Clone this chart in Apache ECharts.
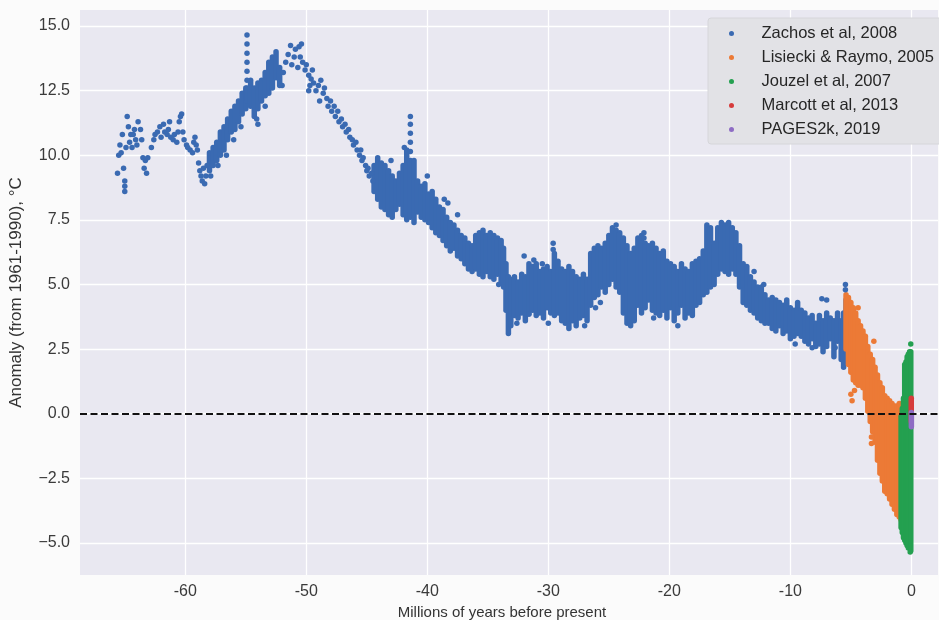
<!DOCTYPE html>
<html>
<head>
<meta charset="utf-8">
<script src="https://cdn.jsdelivr.net/npm/echarts@6/dist/echarts.min.js"></script>
<style>
  html, body { margin: 0; padding: 0; background: #fbfbfb; }
  #chart { width: 939px; height: 620px; }
</style>
</head>
<body>
<div id="chart"></div>
<script>
const seriesNames = ['Zachos et al, 2008', 'Lisiecki & Raymo, 2005', 'Jouzel et al, 2007', 'Marcott et al, 2013', 'PAGES2k, 2019'];
const seriesColors = ['#3a6ab2', '#ec7a36', '#24a050', '#d63b3b', '#8e6cc4'];
const xTicks = [-60, -50, -40, -30, -20, -10, 0];
const yTicks = [-5, -2.5, 0, 2.5, 5, 7.5, 10, 12.5, 15];

// single readings [Myr, anomaly]
const zachosPoints = [
  [-65.6, 9.3], [-65.5, 10.0], [-65.4, 10.4], [-65.3, 10.1], [-65.2, 10.8], [-65.1, 9.5], [-65.0, 9.0], [-65.0, 8.8],
  [-65.0, 8.6], [-64.9, 10.3], [-64.8, 11.5], [-64.7, 11.1], [-64.6, 10.5], [-64.5, 10.8], [-64.4, 10.3], [-64.3, 10.8],
  [-64.2, 11.0], [-64.1, 10.6], [-64.0, 10.4], [-63.9, 11.3], [-63.7, 11.0], [-63.6, 10.6], [-63.5, 9.9], [-63.4, 9.5],
  [-63.3, 9.8], [-63.2, 9.3], [-63.1, 9.9], [-62.8, 10.3], [-62.6, 10.6], [-62.5, 10.8], [-62.3, 10.9], [-62.1, 11.1],
  [-62.0, 10.7], [-61.8, 11.2], [-61.7, 10.9], [-61.5, 10.8], [-61.4, 11.0], [-61.3, 11.3], [-61.2, 10.7], [-61.0, 10.6],
  [-60.9, 10.8], [-60.7, 10.5], [-60.6, 10.9], [-60.5, 11.3], [-60.4, 11.5], [-60.3, 11.6], [-60.2, 10.9], [-60.1, 10.6],
  [-59.9, 10.4], [-59.8, 10.3], [-59.6, 10.2], [-59.4, 10.1], [-59.3, 10.5], [-59.2, 10.7], [-59.1, 10.4], [-59.0, 10.2],
  [-58.9, 9.7], [-58.8, 9.4], [-58.7, 9.2], [-58.6, 9.0], [-58.5, 9.5], [-58.4, 8.9], [-58.3, 9.2], [-58.2, 9.6],
  [-57.9, 9.2], [-57.3, 9.6], [-56.6, 10.0], [-56.0, 10.6], [-55.4, 11.1], [-54.1, 11.4], [-54.0, 11.2], [-53.4, 11.9],
  [-54.9, 12.9], [-54.9, 13.25], [-54.9, 13.6], [-54.9, 13.95], [-54.9, 14.3], [-54.9, 14.65],
  [-52.0, 12.7], [-51.9, 13.2], [-51.7, 13.6], [-51.5, 13.9], [-51.3, 14.25], [-51.2, 13.5], [-51.0, 13.8], [-50.9, 14.1],
  [-50.7, 13.4], [-50.6, 14.2], [-50.5, 13.8], [-50.4, 14.3], [-50.3, 13.6], [-50.1, 13.3], [-50.0, 13.5], [-49.8, 13.1],
  [-49.8, 12.5], [-49.7, 12.7], [-49.6, 12.95], [-49.5, 13.3], [-49.4, 12.8], [-49.2, 12.5], [-49.0, 12.7], [-48.9, 12.1],
  [-48.8, 12.9], [-48.6, 12.4], [-48.5, 12.6], [-48.3, 12.2], [-48.2, 11.9], [-48.0, 12.1], [-47.9, 11.7], [-47.7, 11.9],
  [-47.6, 11.5], [-47.4, 11.7], [-47.3, 11.3], [-47.1, 11.4], [-47.0, 11.1], [-46.8, 11.2], [-46.7, 10.9], [-46.5, 11.0],
  [-46.4, 10.7], [-46.2, 10.6], [-46.1, 10.4], [-45.9, 10.5], [-45.8, 10.2], [-45.6, 10.0], [-45.5, 10.2], [-45.4, 9.8],
  [-45.3, 9.9], [-45.1, 9.6], [-45.0, 9.4], [-44.9, 9.5], [-44.8, 9.2], [-44.6, 9.3], [-44.5, 9.0],
  [-41.4, 10.15], [-41.4, 10.5], [-41.4, 10.85], [-41.4, 11.2], [-41.4, 11.5],
  [-43.0, 9.8], [-41.9, 10.3], [-40.0, 9.2], [-38.6, 8.3], [-38.3, 8.15], [-37.5, 7.7], [-34.1, 5.0], [-32.6, 3.5],
  [-32.0, 6.1], [-31.2, 5.95], [-30.5, 5.8], [-29.6, 6.6], [-29.6, 6.35], [-31.6, 3.85], [-30.0, 3.5], [-27.0, 3.4],
  [-26.1, 4.1], [-25.7, 4.3], [-24.4, 7.3], [-22.1, 6.8], [-22.1, 7.0], [-21.3, 3.7], [-19.3, 3.4], [-13.0, 5.5],
  [-12.2, 5.0], [-9.6, 2.7], [-8.2, 2.55], [-7.4, 4.45], [-7.0, 4.4], [-6.3, 2.55], [-5.45, 5.0], [-5.45, 4.8]
];

// dense stretches: [Myr, lowest, highest]
const zachosRanges = [
  [-58.0, 9.4, 10.1], [-57.7, 9.6, 10.3], [-57.4, 9.8, 10.5], [-57.1, 10.0, 10.9], [-56.8, 10.2, 11.1], [-56.5, 10.6, 11.4],
  [-56.2, 10.9, 11.7], [-55.9, 11.0, 11.9], [-55.6, 11.3, 12.1], [-55.3, 11.6, 12.4], [-55.0, 11.8, 12.6], [-54.9, 12.1, 12.6],
  [-54.6, 11.9, 12.9], [-54.3, 11.5, 12.6], [-54.0, 11.8, 12.8], [-53.7, 12.1, 12.9], [-53.4, 12.3, 13.2], [-53.1, 12.4, 13.6],
  [-52.8, 12.6, 13.8], [-52.5, 13.0, 14.0], [-52.2, 12.7, 13.4],
  [-44.4, 8.6, 9.6], [-44.1, 8.3, 9.9], [-43.8, 8.0, 9.7], [-43.5, 7.9, 9.6], [-43.2, 7.7, 9.4], [-42.9, 7.6, 9.2],
  [-42.6, 7.9, 9.0], [-42.3, 8.1, 9.3], [-42.0, 7.7, 9.6], [-41.7, 7.5, 10.2], [-41.4, 7.6, 9.8], [-41.1, 7.4, 9.8],
  [-40.8, 7.8, 9.0], [-40.5, 7.6, 8.8], [-40.2, 7.5, 8.9], [-39.9, 7.4, 8.5], [-39.6, 7.2, 8.6], [-39.3, 7.0, 8.3],
  [-39.0, 6.9, 8.0], [-38.7, 6.7, 7.9], [-38.4, 6.5, 7.6], [-38.1, 6.3, 7.4], [-37.8, 6.4, 7.3], [-37.5, 6.1, 7.1],
  [-37.2, 6.0, 6.9], [-36.9, 5.8, 6.8], [-36.6, 5.6, 6.6], [-36.3, 5.5, 6.5], [-36.0, 5.6, 6.9], [-35.7, 5.4, 7.0],
  [-35.4, 5.3, 7.1], [-35.1, 5.5, 6.9], [-34.8, 5.3, 7.0], [-34.5, 5.2, 6.9], [-34.2, 5.4, 6.8], [-33.9, 5.1, 6.7],
  [-33.7, 4.9, 6.4], [-33.5, 4.0, 5.8], [-33.3, 3.1, 5.3], [-33.1, 3.4, 5.2], [-32.8, 3.8, 5.3], [-32.5, 3.7, 5.1],
  [-32.2, 3.9, 5.4], [-31.9, 3.6, 5.3], [-31.6, 3.9, 5.8], [-31.3, 4.0, 5.7], [-31.0, 3.8, 5.8], [-30.7, 3.9, 5.5],
  [-30.4, 3.7, 5.6], [-30.1, 4.1, 5.7], [-29.8, 3.9, 5.5], [-29.5, 3.8, 6.2], [-29.2, 3.9, 5.9], [-28.9, 3.6, 5.6],
  [-28.6, 3.5, 5.5], [-28.3, 3.3, 5.7], [-28.0, 3.6, 5.5], [-27.7, 3.4, 5.3], [-27.4, 3.7, 5.2], [-27.1, 3.8, 5.4],
  [-26.8, 3.6, 5.2], [-26.5, 4.2, 6.2], [-26.2, 4.5, 6.4], [-25.9, 4.6, 6.5], [-25.6, 4.9, 6.4], [-25.3, 4.7, 6.6],
  [-25.0, 5.0, 6.9], [-24.7, 5.2, 7.2], [-24.4, 4.9, 7.1], [-24.1, 4.7, 7.0], [-23.8, 3.9, 6.8], [-23.5, 3.5, 6.5],
  [-23.2, 3.4, 6.2], [-22.9, 3.6, 6.4], [-22.6, 4.2, 6.8], [-22.3, 3.9, 6.9], [-22.0, 4.1, 6.6], [-21.7, 4.4, 6.5],
  [-21.4, 4.0, 6.6], [-21.1, 3.9, 6.4], [-20.8, 3.8, 6.2], [-20.5, 4.0, 6.3], [-20.2, 3.7, 5.9], [-19.9, 4.1, 5.8],
  [-19.6, 3.6, 5.7], [-19.3, 3.9, 5.5], [-19.0, 4.2, 5.8], [-18.7, 3.7, 5.6], [-18.4, 3.9, 5.5], [-18.1, 3.8, 5.8],
  [-17.8, 4.2, 5.9], [-17.5, 4.3, 6.0], [-17.2, 4.6, 6.3], [-16.9, 4.7, 7.3], [-16.6, 4.9, 7.2], [-16.3, 5.0, 6.6],
  [-16.0, 5.4, 7.2], [-15.7, 5.6, 7.4], [-15.4, 5.5, 7.3], [-15.1, 5.4, 7.4], [-14.8, 5.6, 7.2], [-14.5, 5.4, 7.0],
  [-14.2, 4.9, 6.5], [-13.9, 4.3, 5.8], [-13.6, 4.2, 5.7], [-13.3, 4.0, 5.3], [-13.0, 3.9, 5.1], [-12.7, 3.7, 4.9],
  [-12.4, 3.6, 4.9], [-12.1, 3.5, 4.6], [-11.8, 3.5, 4.4], [-11.5, 3.3, 4.5], [-11.2, 3.2, 4.4], [-10.9, 3.4, 4.3],
  [-10.6, 3.1, 4.2], [-10.3, 3.2, 4.4], [-10.0, 2.9, 4.1], [-9.7, 3.0, 4.0], [-9.4, 3.1, 4.3], [-9.1, 3.0, 4.0],
  [-8.8, 2.8, 3.9], [-8.5, 2.7, 3.7], [-8.2, 2.9, 3.8], [-7.9, 2.6, 3.5], [-7.6, 2.7, 3.8], [-7.3, 2.4, 3.6],
  [-7.0, 2.6, 3.9], [-6.7, 2.9, 3.7], [-6.4, 2.2, 3.6], [-6.1, 2.8, 3.9], [-5.8, 2.1, 3.6], [-5.6, 1.8, 3.9],
  [-5.4, 2.4, 4.4]
];

const lisieckiRanges = [
  [-5.4, 2.5, 4.6], [-5.2, 1.9, 4.5], [-5.0, 1.6, 4.3], [-4.8, 1.3, 4.1], [-4.6, 1.2, 3.9], [-4.4, 1.1, 3.6],
  [-4.2, 1.1, 3.4], [-4.0, 1.0, 3.2], [-3.8, 0.6, 3.0], [-3.6, 0.1, 2.6], [-3.4, -0.3, 2.3], [-3.2, -0.7, 2.1],
  [-3.0, -1.1, 1.8], [-2.8, -1.8, 1.5], [-2.6, -2.3, 1.2], [-2.4, -2.6, 1.0], [-2.2, -3.0, 0.7], [-2.0, -3.1, 0.6],
  [-1.8, -3.3, 0.5], [-1.6, -3.5, 0.4], [-1.4, -3.7, 0.3], [-1.2, -3.9, 0.3], [-1.0, -4.0, 0.4], [-0.85, -4.1, 0.2]
];
const lisieckiPoints = [[-5.0, 0.75], [-4.9, 0.5], [-4.7, 0.9], [-4.4, 4.1], [-3.3, -0.9], [-3.3, -1.15], [-3.1, 2.8]];

const jouzelRanges = [
  [-0.85, -4.4, -0.1], [-0.75, -4.6, 0.2], [-0.65, -4.8, 0.6], [-0.55, -4.9, 1.9], [-0.45, -5.0, 2.0],
  [-0.35, -5.1, 2.2], [-0.25, -5.2, 2.3], [-0.15, -5.2, 2.4], [-0.05, -5.3, 2.4]
];
const jouzelPoints = [[-0.05, 2.7], [-0.1, -5.35]];

const marcottRanges = [[-0.01, -0.3, 0.6]];
const pagesRanges = [[0, -0.5, 0.05]];

const font = '"Liberation Sans", Arial, sans-serif';

function rangeRenderer(color) {
  return function (params, api) {
    const a = api.coord([api.value(0), api.value(1)]);
    const b = api.coord([api.value(0), api.value(2)]);
    return {
      type: 'line',
      shape: { x1: a[0], y1: a[1], x2: b[0], y2: b[1] },
      style: { stroke: color, lineWidth: 5.5, lineCap: 'round' }
    };
  };
}

function rangeSeries(i, data) {
  return {
    name: seriesNames[i],
    type: 'custom',
    data: data,
    encode: { x: 0, y: [1, 2] },
    itemStyle: { color: seriesColors[i] },
    renderItem: rangeRenderer(seriesColors[i])
  };
}

function pointSeries(i, data) {
  return {
    name: seriesNames[i],
    type: 'scatter',
    data: data,
    symbolSize: 5.5,
    itemStyle: { color: seriesColors[i], opacity: 1 }
  };
}

const chart = echarts.init(document.getElementById('chart'));

const zeroLine = {
  silent: true,
  symbol: ['none', 'none'],
  label: { show: false },
  lineStyle: { color: '#111', width: 2, type: [7, 3.5] },
  data: [{ yAxis: 0 }]
};

const zachosScatter = pointSeries(0, zachosPoints);
zachosScatter.markLine = zeroLine;

const option = {
  animation: false,
  backgroundColor: '#fbfbfb',
  color: seriesColors,
  grid: {
    left: 80, right: 1, top: 10, bottom: 45,
    outerBoundsMode: 'none', containLabel: false,
    show: true, backgroundColor: '#e9e8f1', borderWidth: 0
  },
  legend: {
    orient: 'vertical',
    left: 708,
    top: 18,
    padding: [7, 14, 6, 21],
    icon: 'circle',
    itemWidth: 50,
    itemHeight: 5,
    itemGap: 7,
    backgroundColor: '#e2e2e6',
    borderColor: '#d6d6da',
    borderWidth: 1,
    borderRadius: 3,
    textStyle: { fontFamily: font, fontSize: 16.5, color: '#262626', lineHeight: 16 },
    data: seriesNames
  },
  xAxis: {
    type: 'value',
    min: -68.7,
    max: 2.2,
    name: 'Millions of years before present',
    nameLocation: 'middle',
    nameGap: 25,
    nameTextStyle: { fontFamily: font, fontSize: 15, color: '#333', padding: [0, 14, 0, 0] },
    axisLine: { show: false },
    axisTick: { show: false, customValues: xTicks },
    axisLabel: { customValues: xTicks, fontFamily: font, fontSize: 16, color: '#3a3a3a', margin: 9, formatter: v => String(v) },
    splitLine: { show: true, lineStyle: { color: '#ffffff', width: 1.3 } }
  },
  yAxis: {
    type: 'value',
    min: -6.24,
    max: 15.62,
    name: 'Anomaly (from 1961-1990), °C',
    nameLocation: 'middle',
    nameGap: 55,
    nameTextStyle: { fontFamily: font, fontSize: 17, color: '#333' },
    axisLine: { show: false },
    axisTick: { show: false, customValues: yTicks },
    axisLabel: {
      customValues: yTicks, fontFamily: font, fontSize: 16, color: '#3a3a3a', margin: 10,
      formatter: v => (v < 0 ? '\u2212' : '') + Math.abs(v).toFixed(1)
    },
    splitLine: { show: true, lineStyle: { color: '#ffffff', width: 1.3 } }
  },
  series: [
    rangeSeries(0, zachosRanges),
    zachosScatter,
    rangeSeries(1, lisieckiRanges),
    pointSeries(1, lisieckiPoints),
    rangeSeries(2, jouzelRanges),
    pointSeries(2, jouzelPoints),
    rangeSeries(3, marcottRanges),
    rangeSeries(4, pagesRanges)
  ]
};

chart.setOption(option);
</script>
</body>
</html>
